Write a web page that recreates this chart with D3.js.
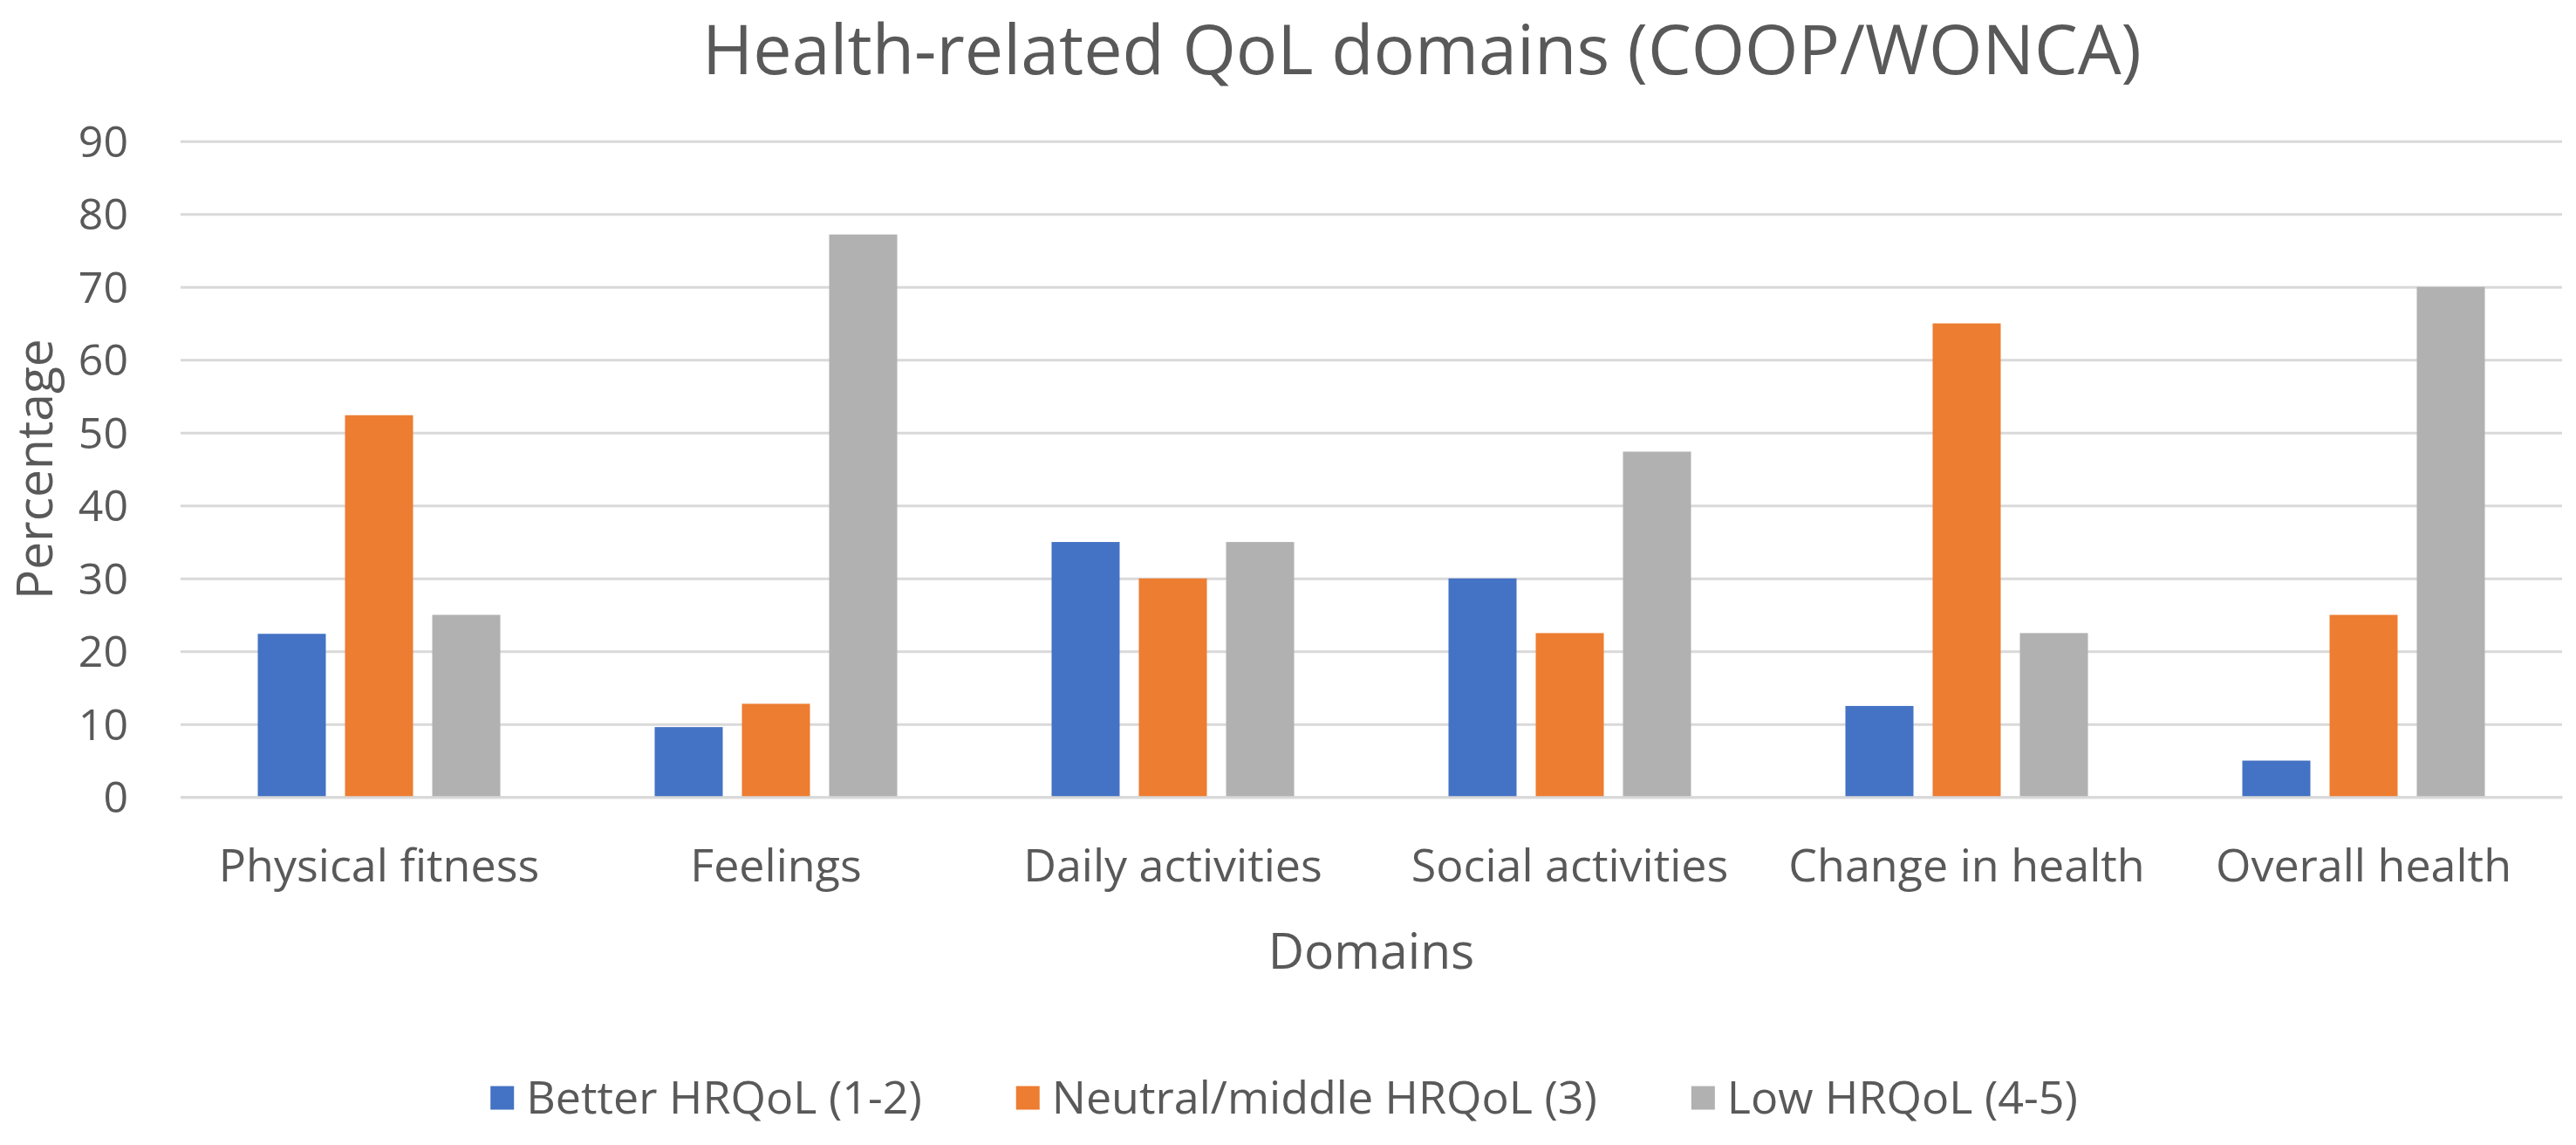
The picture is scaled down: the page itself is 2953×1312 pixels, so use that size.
<!DOCTYPE html>
<html>
<head>
<meta charset="utf-8">
<script src="https://cdn.jsdelivr.net/npm/d3@7/dist/d3.min.js"></script>
<style>
  html, body { margin: 0; padding: 0; background: #ffffff; }
  svg { display: block; font-family: "Open Sans", "Noto Sans", sans-serif; }
</style>
</head>
<body>
<svg id="chart" width="2953" height="1312"></svg>
<script>
// ---- data ----
const categories = ["Physical fitness", "Feelings", "Daily activities", "Social activities", "Change in health", "Overall health"];
const seriesNames = ["Better HRQoL (1-2)", "Neutral/middle HRQoL (3)", "Low HRQoL (4-5)"];
const betterValues  = [22.4, 9.6, 35, 30, 12.5, 5];
const neutralValues = [52.4, 12.8, 30, 22.5, 65, 25];
const lowValues     = [25, 77.2, 35, 47.4, 22.5, 70];
const yTicks = [0, 10, 20, 30, 40, 50, 60, 70, 80, 90];
const titleText = "Health-related QoL domains (COOP/WONCA)";
const xTitle = "Domains";
const yTitle = "Percentage";

// ---- styles ----
const colors = ["#4472C4", "#ED7D31", "#B1B1B1"];
const textColor = "#595959";
const gridColor = "#D9D9D9";

const W = 2953, H = 1312;
const plot = { left: 207, right: 2937, top: 161.8, bottom: 913.3 };

const svg = d3.select("#chart");
svg.append("rect").attr("width", W).attr("height", H).attr("fill", "#fff");

const x0 = d3.scaleBand().domain(categories).range([plot.left, plot.right])
  .paddingInner(0.389).paddingOuter(0.1945);
const x1 = d3.scaleBand().domain(seriesNames).range([0, x0.bandwidth()]).paddingInner(0.22);
const y = d3.scaleLinear().domain([0, 90]).range([plot.bottom, plot.top]);

// gridlines + y tick labels
const yAxis = d3.axisLeft(y).tickValues(yTicks).tickSize(-(plot.right - plot.left)).tickPadding(60).tickFormat(d3.format("d"));
const gy = svg.append("g").attr("transform", `translate(${plot.left},0)`).call(yAxis);
gy.select(".domain").remove();
gy.selectAll(".tick line").attr("stroke", gridColor).attr("stroke-width", 3);
gy.selectAll(".tick text").attr("fill", textColor).attr("font-size", 50)
  .attr("font-family", "Open Sans").attr("dy", "0.35em");

// bars
const seriesData = [betterValues, neutralValues, lowValues];
const groups = svg.append("g").selectAll("g").data(categories).join("g")
  .attr("transform", d => `translate(${x0(d)},0)`);
groups.selectAll("rect")
  .data((c, i) => seriesNames.map((s, j) => ({ s, j, v: seriesData[j][i] })))
  .join("rect")
  .attr("x", d => x1(d.s))
  .attr("width", x1.bandwidth())
  .attr("y", d => y(d.v))
  .attr("height", d => y(0) - y(d.v))
  .attr("fill", d => colors[d.j]);

// x axis labels
const xAxis = d3.axisBottom(x0).tickSize(0).tickPadding(0);
const gx = svg.append("g").attr("transform", `translate(0,${plot.bottom})`).call(xAxis);
gx.select(".domain").attr("stroke", gridColor).attr("stroke-width", 3);
gx.selectAll(".tick text").attr("fill", textColor).attr("font-size", 52)
  .attr("font-family", "Open Sans").attr("dy", null).attr("y", 97);

// title
svg.append("text").attr("x", 1630).attr("y", 85).attr("text-anchor", "middle")
  .attr("font-size", 79).attr("fill", textColor).text(titleText);

// axis titles
svg.append("text").attr("x", (plot.left + plot.right) / 2).attr("y", 1110).attr("text-anchor", "middle")
  .attr("font-size", 57).attr("fill", textColor).text(xTitle);
svg.append("text").attr("transform", `translate(60,${(plot.top + plot.bottom) / 2}) rotate(-90)`)
  .attr("text-anchor", "middle").attr("font-size", 57).attr("fill", textColor).text(yTitle);

// legend
const legend = svg.append("g");
const swatch = 27, swGap = 14, itemGap = 108, legFont = 52;
let lx = 0;
seriesNames.forEach((s, j) => {
  const g = legend.append("g").attr("transform", `translate(${lx},0)`);
  g.append("rect").attr("x", 0).attr("y", -swatch / 2).attr("width", swatch).attr("height", swatch).attr("fill", colors[j]);
  const t = g.append("text").attr("x", swatch + swGap).attr("y", 0).attr("dy", "0.35em")
    .attr("font-size", legFont).attr("fill", textColor).text(s);
  lx += swatch + swGap + t.node().getComputedTextLength() + itemGap;
});
lx -= itemGap;
legend.attr("transform", `translate(${1472 - lx / 2},1258)`);
</script>
</body>
</html>
